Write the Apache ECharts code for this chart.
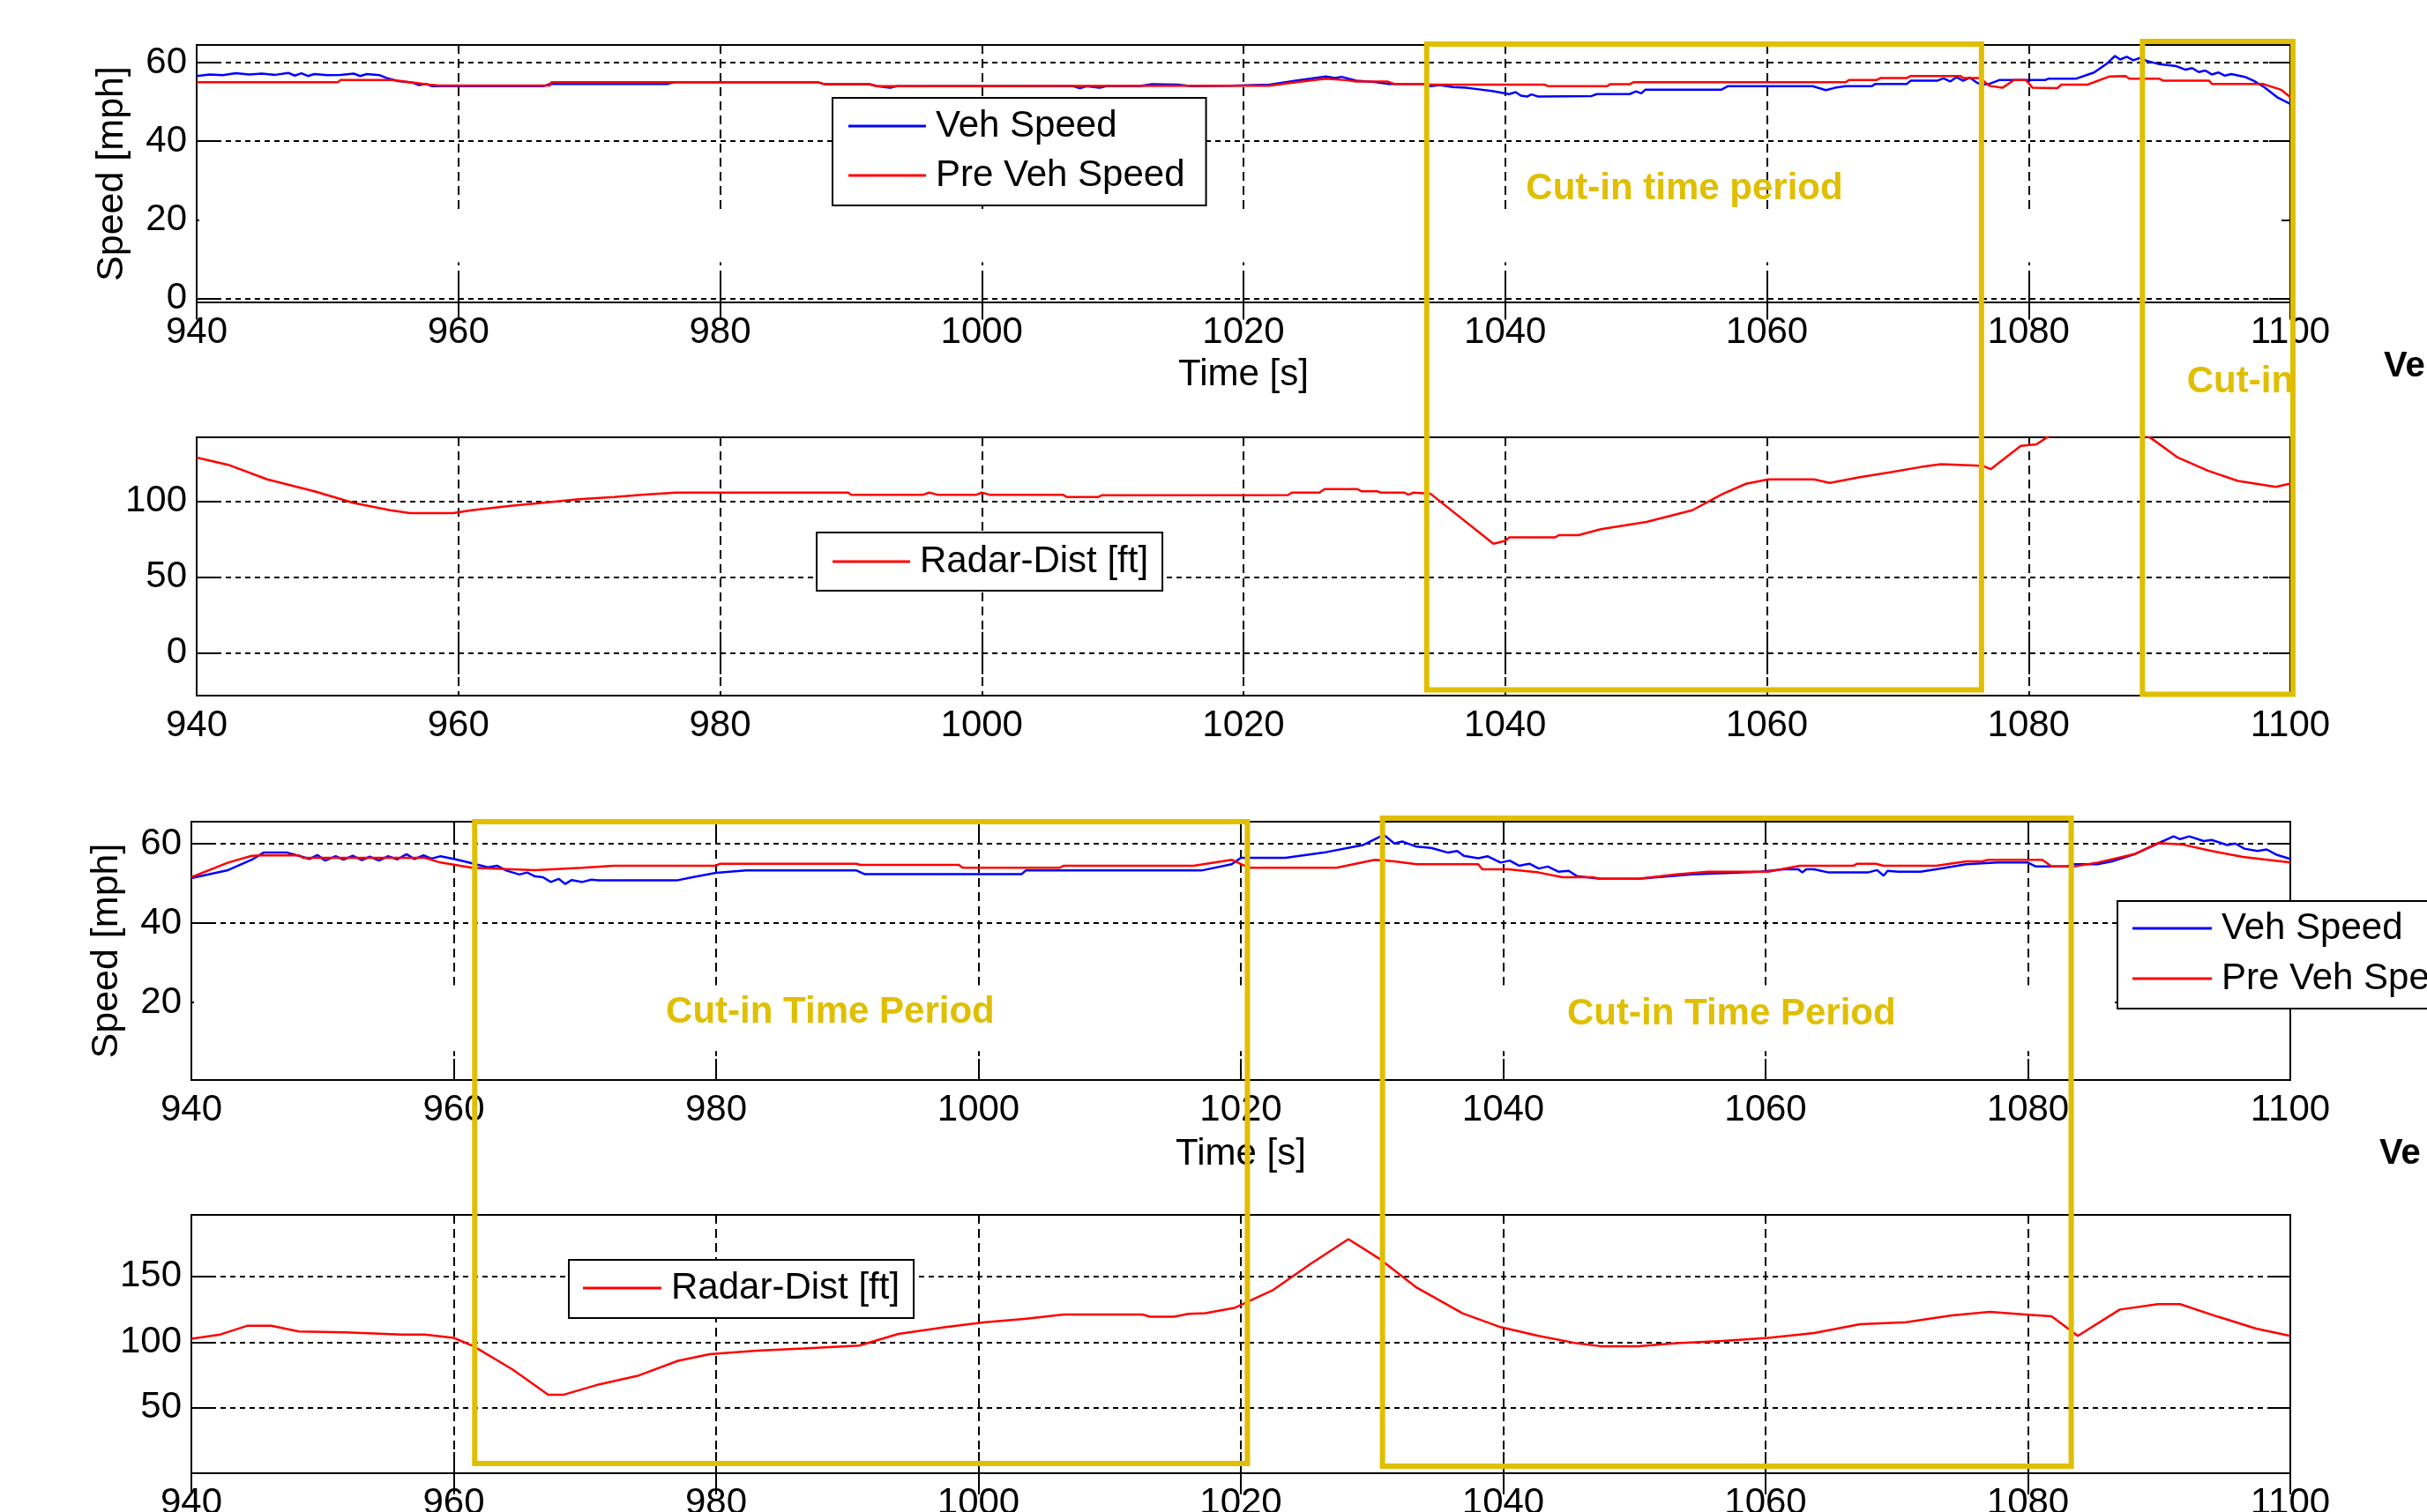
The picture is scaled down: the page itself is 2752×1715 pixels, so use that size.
<!DOCTYPE html>
<html>
<head>
<meta charset="utf-8">
<title>Veh Speed / Radar-Dist</title>
<script src="https://cdn.jsdelivr.net/npm/echarts@6.0.0/dist/echarts.min.js"></script>
<style>
  html, body { margin: 0; padding: 0; background: #fff; }
  #chart { width: 2752px; height: 1715px; }
</style>
</head>
<body>
<div id="chart"></div>
<script>
// time axis [s]
const timeMin = 940, timeMax = 1100, timeStep = 20;

// y tick labels that are printed on each panel
const speedTicksTop = [0, 20, 40, 60];
const distTicksTop = [0, 50, 100];
const speedTicksBottom = [20, 40, 60];
const distTicksBottom = [50, 100, 150];

// ---- upper run: speed [mph] ----
const vehSpeedTop = [
  [940, 56.6], [941, 57.0], [942, 56.8], [943, 57.3], [944, 57.0], [945, 57.2], [946, 56.9], [947, 57.4],
  [947.5, 56.7], [948, 57.3], [948.5, 56.6], [949, 57.1], [950, 56.8], [951, 56.9], [952, 57.2], [952.5, 56.6],
  [953, 57.1], [954, 56.8], [954.5, 56.1], [955.4, 55.3], [956.5, 54.9], [957, 54.3], [957.5, 54.6], [958, 54.0],
  [962, 54.0], [966.5, 54.0], [967, 54.6], [976, 54.6], [976.5, 55.0], [987.5, 55.0], [988, 54.5], [991.4, 54.5],
  [992, 54.0], [993, 53.6], [993.5, 54.0], [1000, 54.0], [1007, 54.0], [1007.5, 53.5], [1008, 54.0], [1009, 53.6],
  [1009.5, 54.0], [1012, 54.0], [1013, 54.5], [1015, 54.4], [1016, 54.0], [1019, 54.1], [1022, 54.4], [1024, 55.4],
  [1026.3, 56.5], [1027, 56.1], [1027.5, 56.4], [1028.6, 55.4], [1030, 55.1], [1031, 54.6], [1033.8, 54.6],
  [1034.3, 54.0], [1035, 54.3], [1036, 53.8], [1037, 53.6], [1038, 53.2], [1039, 52.8], [1040.3, 52.0],
  [1040.8, 52.5], [1041.2, 51.6], [1041.7, 51.4], [1042, 51.9], [1042.5, 51.4], [1046.6, 51.5], [1047, 52.0],
  [1049.5, 52.0], [1050, 52.7], [1050.4, 52.2], [1050.7, 53.1], [1056.5, 53.1], [1057, 54.0], [1063.5, 54.0],
  [1064, 53.5], [1064.5, 53.0], [1065.2, 53.6], [1066, 54.0], [1068, 54.0], [1068.3, 54.6], [1070.7, 54.6],
  [1071, 55.4], [1073, 55.4], [1073.5, 56.0], [1074, 55.2], [1074.5, 56.3], [1075, 55.4], [1075.5, 56.2],
  [1076, 55.0], [1076.4, 54.4], [1077, 54.6], [1077.8, 55.6], [1081.3, 55.6], [1081.5, 55.9], [1083.6, 55.9],
  [1085, 57.5], [1086, 59.8], [1086.6, 61.7], [1087, 60.8], [1087.5, 61.5], [1088, 60.6], [1088.5, 61.2],
  [1089, 60.5], [1090, 59.6], [1091.3, 59.1], [1092, 58.2], [1092.5, 58.6], [1093, 57.6], [1093.5, 58.0],
  [1094, 57.0], [1094.5, 57.5], [1095, 56.7], [1095.5, 57.1], [1096.6, 56.3], [1097.2, 55.4], [1098, 53.8],
  [1099, 51.2], [1100, 49.5]
];
const preSpeedTop = [
  [940, 55.0], [950.8, 55.0], [951, 55.6], [955, 55.6], [956.3, 55.0], [957.8, 54.4], [958.5, 54.2], [967, 54.2],
  [967.1, 55.0], [987.5, 55.0], [988, 54.5], [991.4, 54.5], [992, 54.0], [1019, 54.1], [1022, 54.1], [1024, 55.0],
  [1026.3, 55.9], [1028, 55.5], [1028.6, 55.2], [1031, 55.2], [1031.5, 54.6], [1033.8, 54.6], [1034.3, 54.4],
  [1043, 54.4], [1043.3, 54.0], [1047.8, 54.0], [1048, 54.5], [1049.5, 54.5], [1049.8, 55.0], [1066, 55.0],
  [1066.3, 55.6], [1068.4, 55.6], [1068.7, 56.1], [1070.7, 56.1], [1071, 56.6], [1074.8, 56.6], [1075, 56.1],
  [1076.3, 56.1], [1077, 54.1], [1078, 53.6], [1078.9, 55.6], [1079.8, 55.6], [1080.3, 53.6], [1082.2, 53.5],
  [1082.5, 54.4], [1084.5, 54.4], [1086.2, 56.5], [1087.4, 56.6], [1087.7, 55.9], [1090, 55.9], [1090.3, 55.4],
  [1093.8, 55.4], [1094, 54.6], [1097.9, 54.6], [1099.3, 53.1], [1100, 51.2]
];
// ---- upper run: radar distance [ft] ----
const radarTop = [
  [940, 128.7], [942.4, 123.9], [945.4, 114.3], [949, 106.5], [952, 98.8], [954.8, 94.0], [956.3, 92.1],
  [959.6, 92.1], [961, 94.0], [964, 96.9], [967, 99.4], [969.2, 101.2], [971.9, 102.7], [974, 104.2],
  [976.6, 105.6], [989.8, 105.6], [990, 104.2], [995.5, 104.2], [996, 105.6], [996.6, 104.2], [999.6, 104.2],
  [1000, 105.6], [1000.6, 104.2], [1006.2, 104.2], [1006.5, 102.7], [1008.9, 102.7], [1009.2, 103.9],
  [1023.4, 104.0], [1023.7, 105.6], [1025.8, 105.6], [1026.2, 107.9], [1028.7, 107.9], [1029, 106.5],
  [1030.2, 106.5], [1030.5, 105.6], [1032.3, 105.6], [1032.6, 104.2], [1033, 105.6], [1034.3, 104.8],
  [1039.1, 71.9], [1040, 73.8], [1040.3, 76.1], [1043.8, 76.1], [1044.1, 77.6], [1045.6, 77.6], [1047.3, 81.5],
  [1050.8, 86.3], [1054.3, 94.0], [1056.6, 104.6], [1058.4, 111.4], [1060.1, 114.3], [1063.6, 114.3],
  [1064.8, 112.0], [1067.1, 115.8], [1069.5, 119.1], [1071.8, 122.5], [1073.3, 124.3], [1075.9, 123.5],
  [1076.5, 123.2], [1077.1, 121.0], [1079.4, 136.4], [1080.6, 137.4], [1081.5, 142.5], [1083, 150],
  [1086, 156], [1089.2, 142.0], [1089.4, 141.2], [1091.4, 128.7], [1093.7, 120.0], [1096, 113.3],
  [1098.9, 109.4], [1100, 111.5]
];

// ---- lower run: speed [mph] ----
const vehSpeedBottom = [
  [940, 51.4], [942.8, 53.4], [944.6, 56.0], [945.5, 57.8], [947.3, 57.8], [948.2, 57.0], [949, 56.2],
  [949.6, 57.2], [950.2, 55.8], [951, 56.9], [951.6, 56.0], [952.3, 57.0], [953, 55.9], [953.6, 56.8],
  [954.3, 55.8], [955, 56.9], [955.7, 56.1], [956.4, 57.4], [957, 56.2], [957.7, 57.1], [958.3, 56.3],
  [959, 56.9], [960, 56.2], [960.8, 55.6], [962.6, 54.1], [963.3, 54.5], [964, 53.3], [965, 52.3],
  [965.6, 52.8], [966.2, 51.8], [966.8, 51.6], [967.4, 50.4], [968, 51.2], [968.5, 49.9], [969, 50.9],
  [969.8, 50.4], [970.5, 51.0], [971, 50.8], [977, 50.8], [978.2, 51.6], [980, 52.7], [982.3, 53.3],
  [990.7, 53.3], [991.3, 52.4], [1003.3, 52.4], [1003.6, 53.3], [1017, 53.3], [1019.3, 54.9], [1020, 56.5],
  [1023.4, 56.5], [1026.3, 57.8], [1029.3, 59.7], [1030.9, 62.3], [1031.7, 60.1], [1032.3, 60.6],
  [1033.4, 59.3], [1034.5, 59.0], [1035.8, 57.8], [1036.5, 58.2], [1037, 57.0], [1038.1, 56.4],
  [1038.8, 56.9], [1039.8, 55.3], [1040.5, 55.8], [1041.2, 54.5], [1042, 55.0], [1042.7, 53.8],
  [1043.4, 54.3], [1044.2, 53.0], [1045, 53.2], [1045.6, 51.9], [1047.4, 51.2], [1050.3, 51.2],
  [1054.4, 52.3], [1059.6, 53.0], [1061.4, 53.6], [1062.5, 53.6], [1062.8, 52.8], [1063.1, 53.6],
  [1063.7, 53.6], [1064.8, 52.8], [1067.8, 52.8], [1068.5, 53.4], [1069, 52.0], [1069.3, 53.2],
  [1070.1, 53.0], [1071.8, 53.0], [1073, 53.6], [1075.3, 54.9], [1077.7, 55.3], [1080, 55.3],
  [1080.6, 54.3], [1082.9, 54.3], [1083.5, 54.9], [1085.3, 54.9], [1086.4, 55.6], [1088.2, 57.5],
  [1089.9, 60.1], [1091.1, 61.9], [1091.6, 61.2], [1092.3, 61.9], [1093.4, 60.7], [1094, 61.0],
  [1095.2, 59.7], [1095.8, 60.1], [1096.5, 58.8], [1097.5, 58.2], [1098.2, 58.6], [1099, 57.2], [1100, 56.2]
];
const preSpeedBottom = [
  [940, 51.6], [942.8, 55.3], [944.6, 57.0], [945.2, 57.1], [948.2, 57.1], [948.5, 56.5], [957.8, 56.5],
  [959, 55.3], [961.4, 54.0], [966.2, 53.4], [969.8, 54.0], [972.2, 54.5], [980, 54.5], [980.3, 55.0],
  [990.7, 55.0], [991, 54.7], [998.5, 54.7], [998.8, 54.0], [1006.2, 54.0], [1006.5, 54.5], [1016.4, 54.5],
  [1019.3, 56.0], [1020.6, 54.0], [1027.3, 54.0], [1030.2, 56.0], [1031.7, 55.6], [1033.4, 54.9],
  [1038.1, 54.9], [1038.4, 53.6], [1040.4, 53.6], [1042.7, 52.8], [1044.5, 51.6], [1046.8, 51.6],
  [1047.4, 51.2], [1050.3, 51.2], [1053.2, 52.3], [1055.6, 53.0], [1060.2, 53.0], [1062.6, 54.5],
  [1066.7, 54.5], [1067, 55.0], [1068.4, 55.0], [1069, 54.5], [1073, 54.5], [1075.3, 55.6], [1076.5, 55.6],
  [1077, 56.0], [1081.1, 56.0], [1081.8, 54.3], [1083.5, 54.3], [1085.3, 55.3], [1088.2, 57.5],
  [1089.9, 60.2], [1091.7, 59.9], [1094, 58.2], [1096.4, 56.7], [1100, 55.3]
];
// ---- lower run: radar distance [ft] ----
const radarBottom = [
  [940, 102.5], [942.2, 105.8], [944.3, 112.5], [946.1, 112.5], [948.2, 108.1], [951.8, 107.4], [956, 105.8],
  [957.8, 105.8], [960, 103.2], [961.5, 96.9], [964.5, 79.0], [967.2, 59.9], [968.4, 59.9], [971.1, 67.8],
  [974.1, 74.5], [977.1, 85.7], [979.5, 90.8], [983.1, 93.5], [986.7, 95.1], [990.9, 97.3], [993.9, 106.2],
  [997.5, 111.4], [1000.5, 115.2], [1003.5, 117.7], [1006.5, 121.0], [1012.5, 121.0], [1013.1, 119.3],
  [1014.9, 119.3], [1016, 121.5], [1017.3, 122.0], [1019.5, 126.0], [1022.4, 139.4], [1025.3, 159.5],
  [1028.2, 178.5], [1030.5, 164.0], [1033.4, 141.6], [1036.9, 121.9], [1039.8, 111.4], [1042.7, 104.7],
  [1045.6, 99.1], [1047.4, 96.9], [1050.3, 96.9], [1053.2, 99.1], [1056.7, 100.9], [1060.2, 103.2],
  [1063.7, 106.9], [1067.2, 113.6], [1070.7, 115.2], [1074.2, 120.3], [1077.1, 123.0], [1080, 120.8],
  [1081.8, 119.7], [1083.8, 104.7], [1087, 124.8], [1089.9, 128.9], [1091.6, 128.9], [1094.5, 119.3],
  [1097.4, 110.3], [1100, 104.7]
];

// cut-in periods marked with yellow boxes [start, end] in s
const cutInTop = [[1034.0, 1076.4], [1088.7, 1100.2]];
const cutInBottom = [[961.6, 1020.5], [1030.8, 1083.3]];

const FONT = '"Liberation Sans", Arial, sans-serif';
const YELLOW = "#E0BE00";
const GRID_LINE = { color: "#000", width: 2 };

// y ranges per panel: [min, max, step]
const yRanges = [[-1, 64.5, 20], [-28, 142, 50], [0.5, 65.6, 20], [0, 197, 50]];
const yLabels = [speedTicksTop, distTicksTop, speedTicksBottom, distTicksBottom];

const grids = [
  { left: 223, right: 155, top: 51, height: 292 },
  { left: 223, right: 155, top: 496, height: 293 },
  { left: 217, right: 155, top: 932, height: 293 },
  { left: 217, right: 155, top: 1378, height: 293 },
].map((g) => ({
  ...g, show: true, borderColor: "#000", borderWidth: 2, backgroundColor: "transparent",
  containLabel: false, outerBoundsMode: "none",
}));

const xAxes = [];
const yAxes = [];
grids.forEach((g, i) => {
  const hasName = i === 0 || i === 2;
  xAxes.push({
    gridIndex: i,
    type: "value",
    position: "bottom",
    min: timeMin,
    max: timeMax,
    interval: timeStep,
    axisLine: { show: false },
    axisTick: { inside: true, length: 24, lineStyle: GRID_LINE },
    axisLabel: { color: "#000", fontSize: 42, fontFamily: FONT, margin: 13, formatter: (v) => String(v) },
    splitLine: { show: true, lineStyle: { ...GRID_LINE, type: [10, 6] } },
    name: hasName ? "Time [s]" : "",
    nameLocation: "middle",
    nameGap: i === 0 ? 61 : 63,
    nameTextStyle: { color: "#000", fontSize: 42, fontFamily: FONT },
  });
  const [mn, mx, step] = yRanges[i];
  const labels = yLabels[i];
  yAxes.push({
    gridIndex: i,
    type: "value",
    position: "left",
    min: mn,
    max: mx,
    minInterval: step,
    maxInterval: step,
    axisLine: { show: false },
    axisTick: { inside: true, length: 24, lineStyle: GRID_LINE },
    axisLabel: {
      color: "#000",
      fontSize: 42,
      fontFamily: FONT,
      margin: 11,
      formatter: (v) => (labels.includes(v) ? String(v) : ""),
    },
    splitLine: { show: true, lineStyle: { ...GRID_LINE, type: [6, 5] } },
    name: hasName ? "Speed [mph]" : "",
    nameLocation: "middle",
    nameRotate: 90,
    nameGap: 74,
    nameTextStyle: { color: "#000", fontSize: 43, fontFamily: FONT },
  });
});
// mirrored ticks on top and right edges
grids.forEach((g, i) => {
  const [mn, mx, step] = yRanges[i];
  xAxes.push({
    gridIndex: i, type: "value", position: "top", min: timeMin, max: timeMax, interval: timeStep,
    axisLine: { show: false }, axisLabel: { show: false }, splitLine: { show: false },
    axisTick: { inside: true, length: 24, lineStyle: GRID_LINE },
  });
  yAxes.push({
    gridIndex: i, type: "value", position: "right", min: mn, max: mx, minInterval: step, maxInterval: step,
    axisLine: { show: false }, axisLabel: { show: false }, splitLine: { show: false },
    axisTick: { inside: true, length: 24, lineStyle: GRID_LINE },
  });
});

function lineSeries(name, idx, data, color, z) {
  return {
    name, type: "line", xAxisIndex: idx, yAxisIndex: idx, data,
    showSymbol: false, symbol: "none", color,
    lineStyle: { color, width: 2.5 }, z, animation: false,
  };
}

function legendCfg(names, left, top, padding, itemWidth, itemGap) {
  return {
    data: names, orient: "vertical", left, top, padding, itemGap,
    icon: "rect", itemWidth, itemHeight: 3,
    selectedMode: false,
    backgroundColor: "#fff", borderColor: "#000", borderWidth: 2, borderRadius: 0,
    textStyle: { color: "#000", fontSize: 42, fontFamily: FONT, lineHeight: 50, padding: [0, 0, 0, 6] },
  };
}

const option = {
  animation: false,
  backgroundColor: "#fff",
  grid: grids,
  xAxis: xAxes,
  yAxis: yAxes,
  legend: [
    legendCfg(["Veh Speed", "Pre Veh Speed"], 944, 111, [7, 24, 9, 18], 88, 6),
    legendCfg(["Radar-Dist [ft]"], 926, 604, [8, 16, 8, 18], 88, 6),
    legendCfg(["Veh Speed", "Pre Veh Speed"], 2401, 1022, [6, 24, 9, 17], 90, 7),
    legendCfg(["Radar-Dist [ft]"], 645, 1429, [7, 16, 9, 16], 89, 6),
  ],
  series: [
    lineSeries("Veh Speed", 0, vehSpeedTop, "#0000FF", 2),
    lineSeries("Pre Veh Speed", 0, preSpeedTop, "#FF0000", 3),
    lineSeries("Radar-Dist [ft]", 1, radarTop, "#FF0000", 3),
    lineSeries("Veh Speed", 2, vehSpeedBottom, "#0000FF", 2),
    lineSeries("Pre Veh Speed", 2, preSpeedBottom, "#FF0000", 3),
    lineSeries("Radar-Dist [ft]", 3, radarBottom, "#FF0000", 3),
  ],
};

const chartDom = document.getElementById("chart");
const myChart = echarts.init(chartDom, null, { renderer: "canvas" });
myChart.setOption(option);

// annotations placed through the axes
const px = (i, t) => myChart.convertToPixel({ xAxisIndex: i }, t);
const py = (i, v) => myChart.convertToPixel({ yAxisIndex: i }, v);

function box(xi, span, topAxis, topVal, botAxis, botVal) {
  const x1 = px(xi, span[0]), x2 = px(xi, span[1]);
  const y1 = py(topAxis, topVal), y2 = py(botAxis, botVal);
  return {
    type: "rect", z: 10, silent: true,
    shape: { x: x1, y: y1, width: x2 - x1, height: y2 - y1 },
    style: { fill: "none", stroke: YELLOW, lineWidth: 6 },
  };
}
function note(text, x, y, align, color, size) {
  return {
    type: "text", z: 11, silent: true,
    style: {
      text, x, y, fill: color || YELLOW,
      font: "bold " + (size || 42) + "px " + FONT,
      align: align || "center", verticalAlign: "middle",
      textAlign: align || "center", textVerticalAlign: "middle",
    },
  };
}
function blank(x1, x2, y1, y2) {
  return {
    type: "rect", z: 1, silent: true,
    shape: { x: x1, y: y1, width: x2 - x1, height: y2 - y1 },
    style: { fill: "#fff" },
  };
}

myChart.setOption({
  graphic: [
    // erased strips of grid
    blank(px(0, timeMin) + 3, px(0, timeMax) - 10, py(0, 22.7), py(0, 9.2)),
    blank(px(2, timeMin) + 3, 2398, py(2, 24.4), py(2, 7.8)),
    box(0, cutInTop[0], 0, 64.7, 1, -24.3),
    box(0, cutInTop[1], 0, 65.4, 1, -27.2),
    box(2, cutInBottom[0], 2, 65.6, 3, 7.4),
    box(2, cutInBottom[1], 2, 66.5, 3, 5.4),
    note("Cut-in time period", px(0, 1053.7), py(0, 27.9)),
    note("Cut-in", px(0, 1092.1), py(0, -21.3), "left"),
    note("Cut-in Time Period", px(2, 988.7), py(2, 17.6)),
    note("Cut-in Time Period", px(2, 1057.4), py(2, 17.1)),
    note("Ve", 2703, 416, "left", "#000", 40),
    note("Ve", 2698, 1309, "left", "#000", 40),
  ],
});

window.addEventListener("resize", () => {
  if (myChart) {
    myChart.resize();
  }
});
</script>
</body>
</html>
